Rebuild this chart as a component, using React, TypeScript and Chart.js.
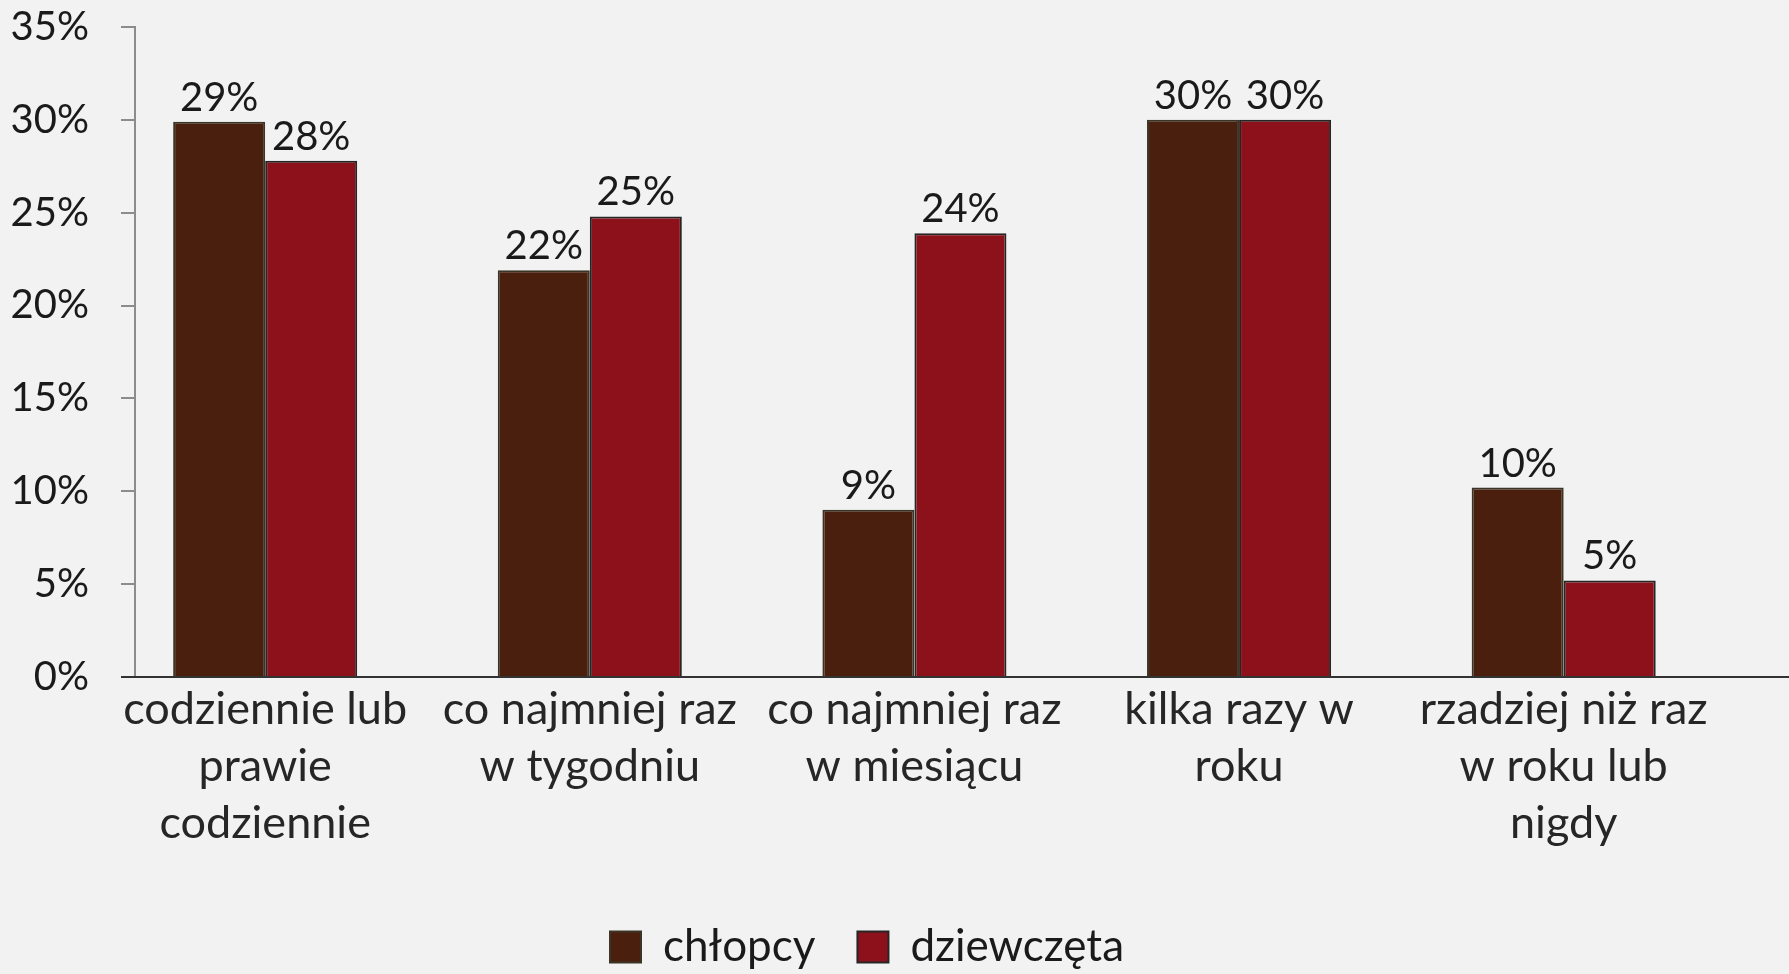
import React, { useEffect, useRef } from 'react';
import { Chart, registerables } from 'chart.js';

Chart.register(...registerables);

const categories: string[][] = [
  ['codziennie lub', 'prawie', 'codziennie'],
  ['co najmniej raz', 'w tygodniu'],
  ['co najmniej raz', 'w miesiącu'],
  ['kilka razy w', 'roku'],
  ['rzadziej niż raz', 'w roku lub', 'nigdy'],
];
const seriesNames = ['chłopcy', 'dziewczęta'];
const boysValues = [29.9, 21.9, 9.0, 30.0, 10.2];
const girlsValues = [27.8, 24.8, 23.9, 30.0, 5.2];
const boysLabels = ['29%', '22%', '9%', '30%', '10%'];
const girlsLabels = ['28%', '25%', '24%', '30%', '5%'];
const yTickValues = [0, 5, 10, 15, 20, 25, 30, 35];
const yTickLabels = ['0%', '5%', '10%', '15%', '20%', '25%', '30%', '35%'];

const FONT = 'Lato, "Open Sans", sans-serif';
const W = 1789;
const H = 979;

const valueLabels = {
  id: 'valueLabels',
  afterDatasetsDraw(chart: any) {
    const ctx = chart.ctx;
    const all = [boysLabels, girlsLabels];
    chart.data.datasets.forEach((_ds: any, di: number) => {
      const meta = chart.getDatasetMeta(di);
      meta.data.forEach((bar: any, i: number) => {
        ctx.save();
        ctx.font = `40px ${FONT}`;
        ctx.fillStyle = '#1a1a1a';
        ctx.textAlign = 'center';
        ctx.textBaseline = 'alphabetic';
        ctx.fillText(all[di][i], bar.x, bar.y - 11);
        ctx.restore();
      });
    });
  },
};

const axisLine = {
  id: 'axisLine',
  afterDatasetsDraw(chart: any) {
    const { ctx, chartArea, scales } = chart;
    const yy = scales.y.getPixelForValue(0);
    ctx.save();
    ctx.strokeStyle = '#333333';
    ctx.lineWidth = 2;
    ctx.beginPath();
    ctx.moveTo(chartArea.left - 14, yy);
    ctx.lineTo(chart.width, yy);
    ctx.stroke();
    ctx.restore();
  },
};

export default function App() {
  const ref = useRef<HTMLCanvasElement | null>(null);

  useEffect(() => {
    if (!ref.current) return;
    const chart = new Chart(ref.current, {
      type: 'bar',
      data: {
        labels: categories,
        datasets: [
          {
            label: seriesNames[0],
            data: boysValues,
            backgroundColor: '#4a1f0e',
            borderColor: '#3a3526',
            borderWidth: 2,
            categoryPercentage: 0.567,
            barPercentage: 1.0,
          },
          {
            label: seriesNames[1],
            data: girlsValues,
            backgroundColor: '#8c111a',
            borderColor: '#262626',
            borderWidth: 2,
            categoryPercentage: 0.567,
            barPercentage: 1.0,
          },
        ],
      },
      options: {
        responsive: false,
        animation: false,
        devicePixelRatio: 1,
        layout: { padding: { left: 8, right: 63, top: 27, bottom: 0 } },
        plugins: {
          tooltip: { enabled: false },
          legend: {
            position: 'bottom',
            labels: {
              boxWidth: 31,
              boxHeight: 31,
              padding: 42,
              color: '#1a1a1a',
              font: { family: FONT, size: 44, lineHeight: 1.0 },
            },
          },
        },
        scales: {
          x: {
            ticks: {
              color: '#262626',
              padding: 4,
              maxRotation: 0,
              autoSkip: false,
              font: { family: FONT, size: 45, lineHeight: 57 / 45 },
            },
            grid: { display: false, drawTicks: false },
            border: { display: false },
            afterBuildTicks: (s: any) => {
              // first category sits a little closer to the value axis than half a slot
              s._startValue = -0.401;
              s._valueRange = 4.901;
            },
            afterFit: (s: any) => {
              s.height = 206;
            },
          },
          y: {
            min: 0,
            max: 35,
            afterBuildTicks: (s: any) => {
              s.ticks = yTickValues.map((v) => ({ value: v }));
            },
            ticks: {
              color: '#1a1a1a',
              padding: 32,
              font: { family: FONT, size: 40 },
              callback: (v: any) => yTickLabels[yTickValues.indexOf(Number(v))],
            },
            grid: {
              drawOnChartArea: false,
              drawTicks: true,
              tickLength: 14,
              color: '#8c8c8c',
              lineWidth: 2,
            },
            border: { color: '#8c8c8c', width: 2 },
            afterFit: (s: any) => {
              s.width = 127;
              s.paddingTop = 0;
            },
          },
        },
      },
      plugins: [valueLabels, axisLine],
    } as any);
    return () => chart.destroy();
  }, []);

  return (
    <div
      style={{
        position: 'fixed',
        left: 0,
        top: 0,
        width: W,
        height: 974,
        overflow: 'hidden',
        background: '#f2f2f2',
      }}
    >
      <canvas ref={ref} width={W} height={H} style={{ display: 'block' }} />
    </div>
  );
}
